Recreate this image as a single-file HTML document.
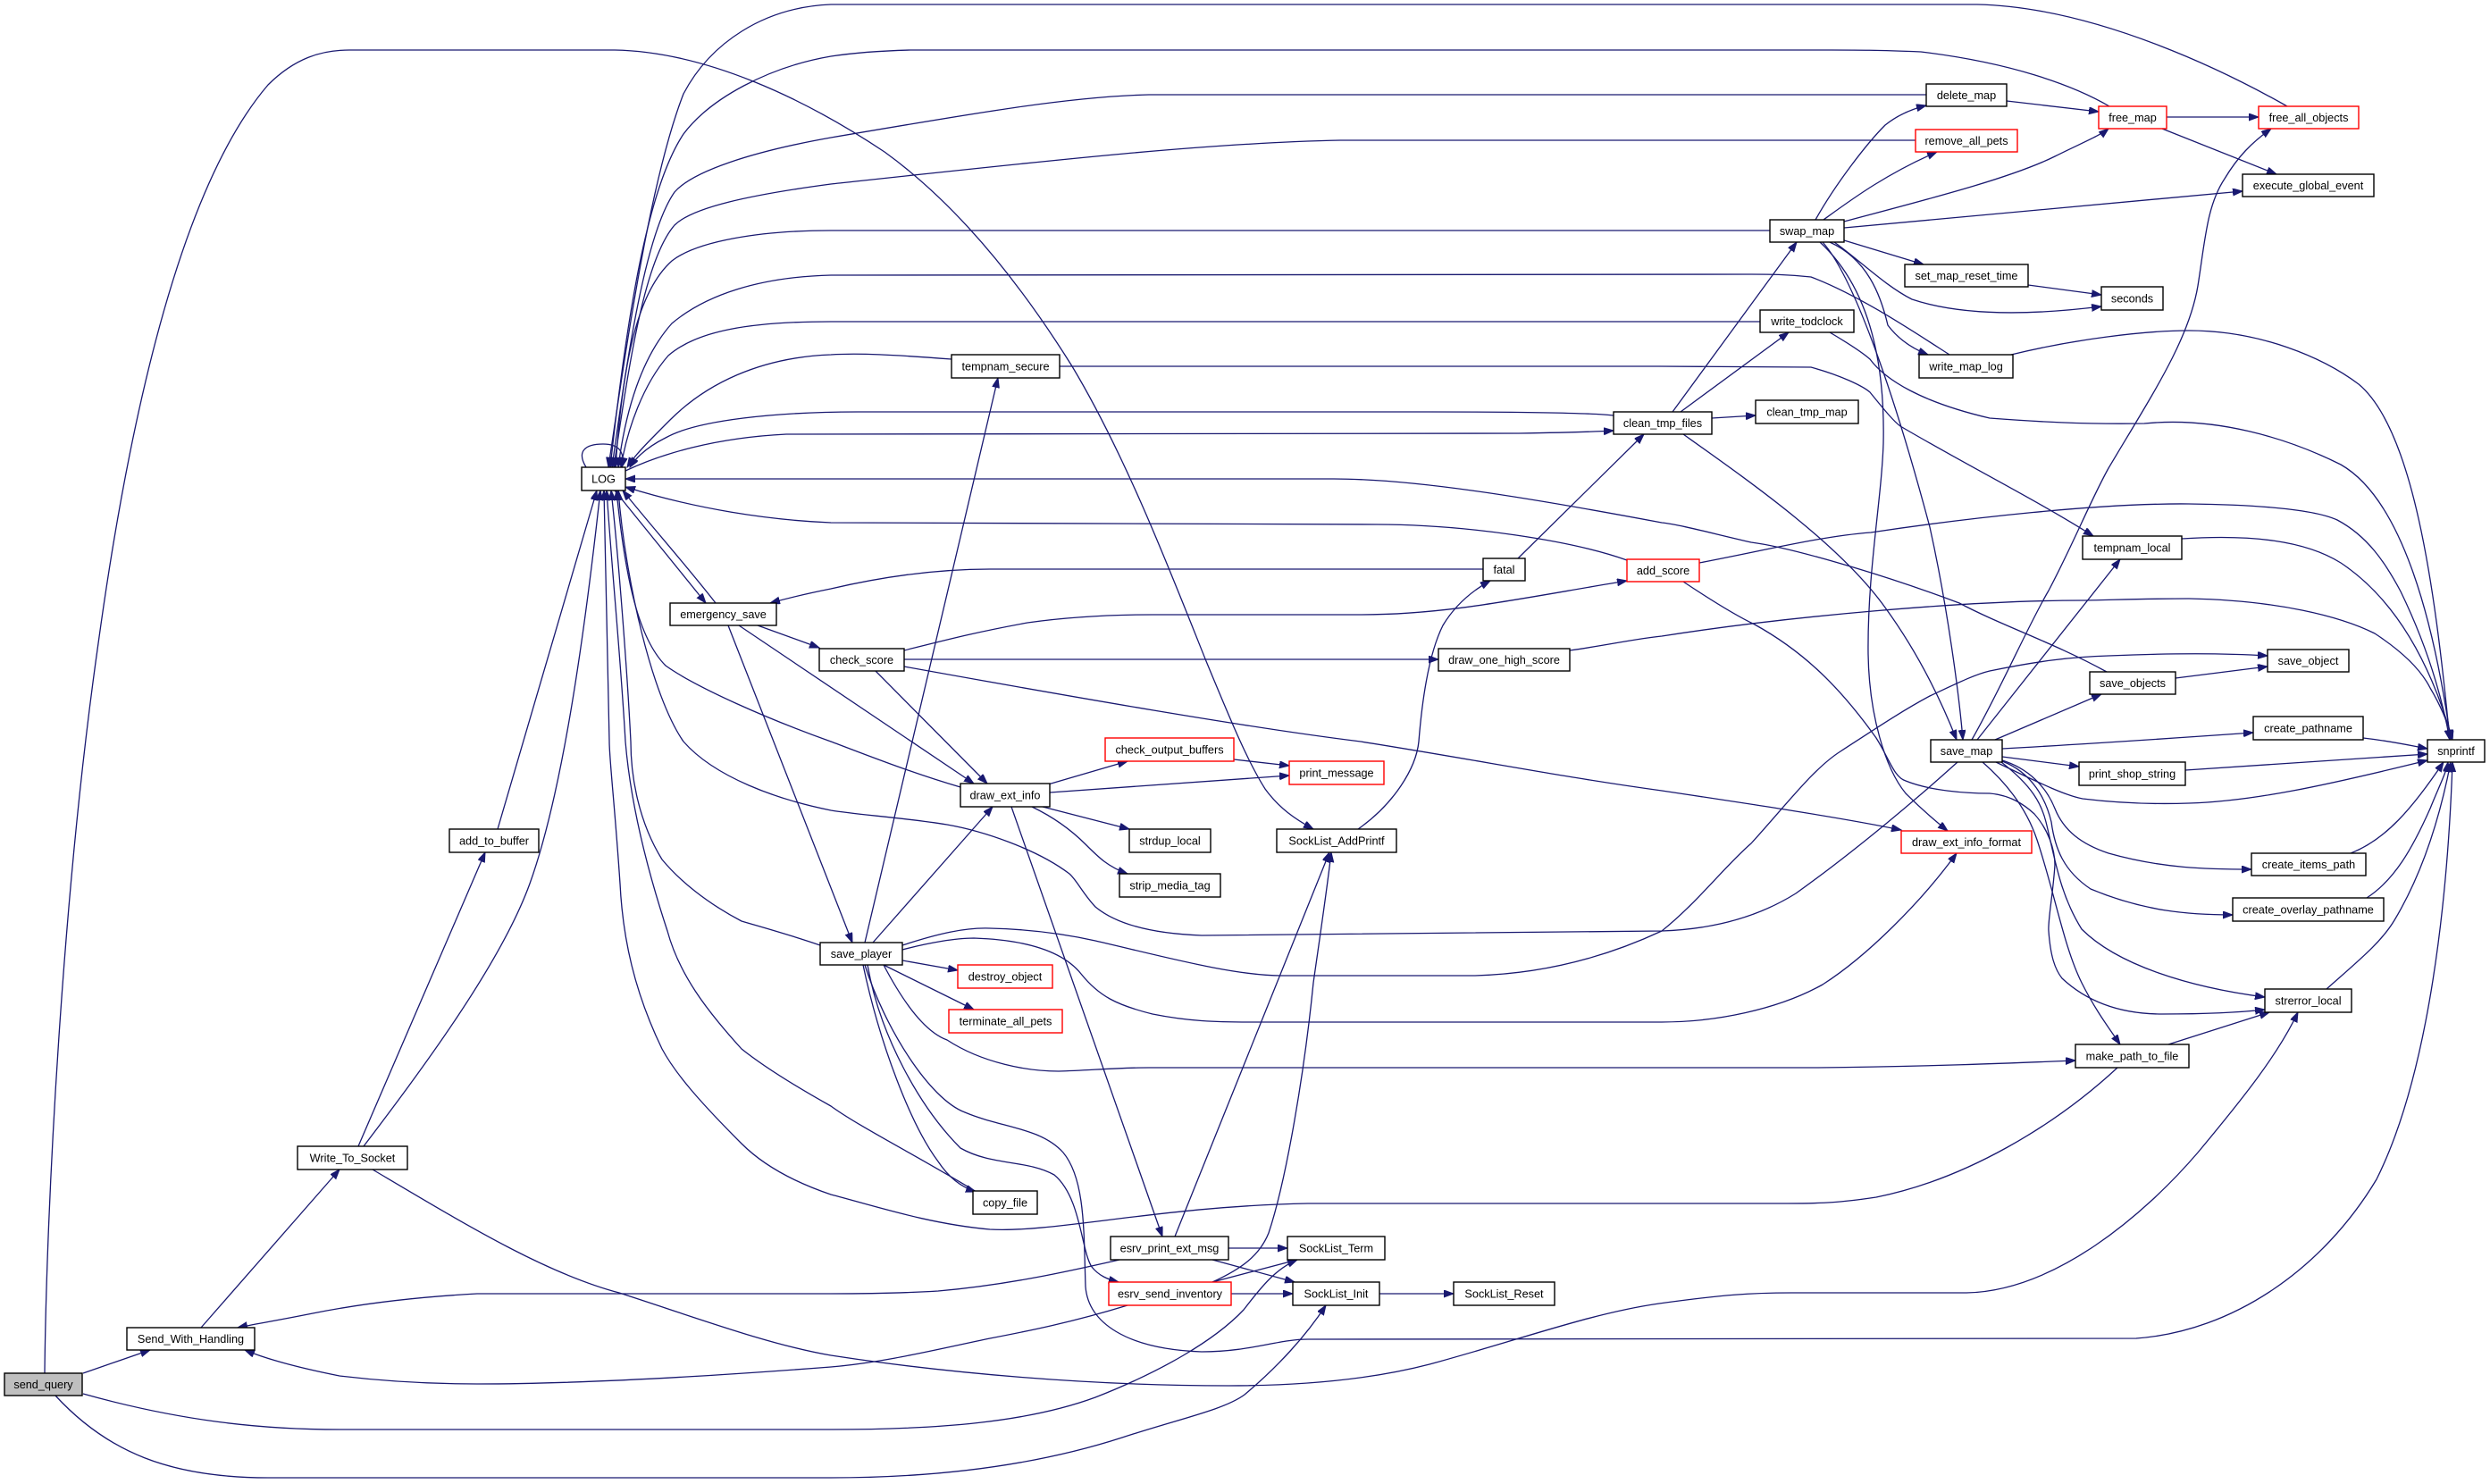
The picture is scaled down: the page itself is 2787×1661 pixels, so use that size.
<!DOCTYPE html>
<html><head><meta charset="utf-8"><style>
html,body{margin:0;padding:0;background:#fff;}
svg{display:block;}
text{font-family:"Liberation Sans",Arial,sans-serif;font-size:12.7px;fill:#000;text-anchor:middle;}
.e{fill:none;stroke:#191970;stroke-width:1.3;marker-end:url(#a);}
.n{fill:#fff;stroke:#000;stroke-width:1.4;}
.r{fill:#fff;stroke:#ff0000;stroke-width:1.4;}
</style></head><body>
<svg width="2787" height="1661" viewBox="0 0 2787 1661" xmlns="http://www.w3.org/2000/svg">
<defs><marker id="a" markerWidth="12" markerHeight="9" refX="11" refY="4" orient="auto" markerUnits="userSpaceOnUse"><path d="M0,0 L11,4 L0,8 z" fill="#191970" stroke="#191970" stroke-width="1"/></marker></defs>
<rect width="2787" height="1661" fill="#fff"/>
<g>
<path class="e" d="M50,1537 C52,1350 70,1000 110,720 C150,430 210,200 300,95 C330,65 360,56 391,56 L688,56 C790,58 900,110 990,170 C1080,235 1150,330 1200,410 C1260,510 1310,640 1350,740 C1375,800 1395,850 1416,883 C1432,905 1450,917 1470,928"/>
<path class="e" d="M93,1537 L168,1511"/>
<path class="e" d="M93,1560 C200,1590 290,1600 380,1600 L930,1600 C1050,1600 1150,1592 1226,1564 C1300,1535 1360,1500 1392,1466 C1412,1440 1428,1420 1452,1410"/>
<path class="e" d="M62,1562 C120,1625 190,1654 300,1654 L930,1654 C1050,1654 1160,1640 1256,1609 C1320,1588 1370,1578 1393,1561 C1430,1530 1462,1495 1484,1461"/>
<path class="e" d="M225,1486 L380,1309"/>
<path class="e" d="M401,1283 L543,954"/>
<path class="e" d="M407,1283 C470,1200 560,1080 593,989 C625,900 650,750 672,549"/>
<path class="e" d="M557,928 L668,549"/>
<path class="e" d="M417,1309 C520,1370 610,1425 693,1447 C780,1475 860,1505 930,1517 C1060,1537 1220,1551 1375,1551 C1480,1551 1550,1540 1600,1527 C1700,1500 1780,1470 1857,1459 C1930,1449 1960,1447 2005,1447 L2201,1447 C2300,1445 2400,1360 2460,1290 C2510,1230 2550,1180 2572,1133"/>
<path class="e" d="M968,1080 C990,1150 1040,1230 1080,1245 C1120,1262 1165,1262 1190,1290 C1215,1320 1213,1380 1215,1440 C1218,1480 1260,1510 1345,1513 C1400,1513 1430,1499 1464,1499 L2391,1498 C2500,1490 2600,1420 2660,1320 C2720,1200 2740,1000 2745,853"/>
<path class="e" d="M971,1080 C985,1160 1030,1240 1075,1285 C1110,1305 1150,1298 1180,1315 C1210,1340 1210,1400 1222,1418 C1230,1428 1240,1432 1252,1435"/>
<path class="e" d="M966,1080 C985,1170 1020,1260 1050,1300 C1062,1318 1075,1328 1092,1334"/>
<path class="e" d="M968,1055 L1117,423"/>
<path class="e" d="M977,1055 L1111,903"/>
<path class="e" d="M1010,1075 L1072,1086"/>
<path class="e" d="M989,1080 L1090,1130"/>
<path class="e" d="M1010,1058 C1050,1045 1080,1038 1108,1039 C1150,1040 1190,1045 1226,1053 C1300,1070 1380,1092 1434,1092 L1650,1092 C1730,1090 1800,1070 1860,1042 C1900,1010 1930,970 1960,944 C2000,900 2030,860 2060,841 C2100,815 2130,795 2160,779 C2190,765 2210,755 2227,751 C2280,740 2320,735 2360,734 C2430,731 2490,731 2538,734"/>
<path class="e" d="M1010,1063 C1040,1055 1070,1050 1090,1050 C1150,1052 1190,1065 1210,1090 C1230,1115 1250,1125 1290,1135 C1330,1143 1360,1144 1400,1144 L1860,1144 C1920,1144 1990,1130 2040,1102 C2090,1070 2150,1010 2190,955"/>
<path class="e" d="M989,1080 C1010,1120 1035,1155 1060,1164 C1100,1190 1150,1199 1185,1199 C1220,1198 1250,1195 1286,1195 L2035,1195 C2150,1194 2250,1190 2323,1187"/>
<path class="e" d="M918,1058 C880,1045 850,1037 830,1031 C790,1010 760,985 741,962 C715,920 706,870 706,830 C702,750 692,620 684,549"/>
<path class="e" d="M815,700 L954,1055"/>
<path class="e" d="M827,700 L1090,877"/>
<path class="e" d="M848,700 L917,725"/>
<path class="e" d="M688,549 L790,675"/>
<path class="e" d="M801,675 C770,635 730,590 697,549"/>
<path class="e" d="M1660,637 L1108,637 C1050,637 990,645 930,659 C900,665 880,670 862,675"/>
<path class="e" d="M1699,625 L1840,486"/>
<path class="e" d="M980,751 L1105,877"/>
<path class="e" d="M1012,728 C1060,716 1090,708 1150,697 C1200,690 1250,688 1290,688 L1523,688 C1620,688 1700,670 1821,650"/>
<path class="e" d="M1012,738 L1610,738"/>
<path class="e" d="M1012,746 C1200,780 1400,815 1523,830 C1650,850 1750,870 1860,885 C1960,900 2060,915 2128,929"/>
<path class="e" d="M1757,728 C1800,722 1830,715 1860,712 C2000,690 2200,672 2331,672 C2380,671 2410,670 2450,670 C2550,672 2620,690 2658,709 C2690,730 2710,750 2720,770 C2732,790 2740,810 2745,828"/>
<path class="e" d="M1902,630 C1980,615 2040,600 2094,596 C2200,580 2350,563 2450,564 C2530,565 2590,570 2616,582 C2650,600 2670,630 2687,662 C2720,730 2735,790 2742,828"/>
<path class="e" d="M1884,651 C1920,675 1945,690 1964,699 C2020,730 2060,770 2100,826 C2115,850 2120,870 2133,874 C2160,885 2200,888 2227,888 C2250,890 2265,900 2277,911 C2292,928 2300,950 2300,968 C2298,1000 2292,1030 2293,1042 C2295,1070 2300,1085 2308,1095 C2340,1125 2380,1135 2420,1135 C2460,1135 2500,1134 2535,1130"/>
<path class="e" d="M1821,627 C1760,605 1640,587 1541,587 L930,585 C860,582 780,570 700,545"/>
<path class="e" d="M2358,752 C2300,720 2240,700 2193,675 C2100,640 2000,612 1960,607 C1920,598 1880,587 1860,585 C1700,555 1580,536 1493,536 L700,536"/>
<path class="e" d="M1806,465 C1780,462 1700,461 1600,461 L960,461 C870,461 780,470 745,490 C725,500 712,512 705,523"/>
<path class="e" d="M700,527 C740,508 800,490 880,486 L1700,485 C1760,484 1790,483 1806,482"/>
<path class="e" d="M1065,402 C1000,397 960,395 930,397 C850,400 790,430 750,470 C725,495 710,510 702,523"/>
<path class="e" d="M1970,360 L930,360 C840,360 780,370 748,398 C720,430 702,480 695,523"/>
<path class="e" d="M2182,397 C2140,370 2080,330 2027,310 C2000,307 1980,307 1960,307 L930,308 C850,310 790,330 752,362 C718,400 700,460 692,523"/>
<path class="e" d="M1981,258 L930,258 C850,258 780,270 752,292 C715,325 697,400 689,523"/>
<path class="e" d="M2144,157 L1500,157 C1350,160 1170,180 930,206 C840,218 775,232 755,252 C722,290 705,400 687,523"/>
<path class="e" d="M2156,106 L1286,106 C1200,108 1100,125 930,154 C840,170 775,192 755,215 C722,262 702,400 685,523"/>
<path class="e" d="M2361,119 C2320,95 2250,70 2150,58 C2100,56 2080,56 2050,56 L1019,56 C980,57 950,60 930,63 C860,75 795,110 765,150 C725,210 702,350 683,523"/>
<path class="e" d="M2560,119 C2500,85 2350,8 2213,5 L930,5 C855,8 795,48 765,105 C728,200 702,380 681,523"/>
<path class="e" d="M1075,881 C1020,865 970,845 930,830 C860,805 780,770 745,745 C715,715 700,650 690,549"/>
<path class="e" d="M2191,853 C2150,890 2080,950 2010,1000 C1970,1025 1920,1040 1860,1042 L1345,1047 C1290,1045 1250,1035 1226,1015 C1212,1000 1205,985 1197,978 C1160,950 1100,930 1060,923 C1010,915 960,912 930,907 C870,895 800,870 765,830 C730,780 700,650 692,549"/>
<path class="e" d="M1093,1334 C1020,1290 960,1260 930,1238 C880,1210 850,1190 830,1174 C790,1130 760,1090 747,1042 C720,960 705,890 700,830 C695,740 685,640 679,549"/>
<path class="e" d="M2370,1195 C2300,1260 2200,1320 2100,1340 C2060,1346 2040,1347 2000,1347 L1464,1347 C1300,1350 1180,1380 1108,1376 C1040,1370 980,1350 930,1337 C880,1320 850,1300 830,1280 C780,1230 755,1200 741,1174 C710,1110 697,1050 694,989 C688,900 682,850 682,830 C680,700 678,620 676,549"/>
<path class="e" d="M656,523 C645,505 655,497 675,497 C692,497 700,505 696,523"/>
<path class="e" d="M1520,928 C1560,900 1585,860 1588,830 C1592,780 1600,730 1615,700 C1630,675 1650,660 1668,650"/>
<path class="e" d="M1872,461 L2011,271"/>
<path class="e" d="M1881,461 L2002,372"/>
<path class="e" d="M1916,468 L1965,465"/>
<path class="e" d="M1884,486 C1960,540 2060,610 2110,680 C2150,735 2175,790 2190,828"/>
<path class="e" d="M2032,246 C2055,205 2090,160 2110,140 C2125,128 2140,122 2156,118"/>
<path class="e" d="M2041,246 C2070,225 2110,195 2168,170"/>
<path class="e" d="M2064,248 C2150,225 2250,200 2300,175 C2330,160 2350,152 2360,144"/>
<path class="e" d="M2064,255 L2510,214"/>
<path class="e" d="M2064,269 L2153,296"/>
<path class="e" d="M2053,271 C2080,290 2110,320 2140,335 C2200,355 2280,352 2352,343"/>
<path class="e" d="M2048,271 C2090,290 2105,330 2113,364 C2125,380 2140,390 2158,397"/>
<path class="e" d="M2040,271 C2075,310 2120,440 2160,590 C2180,680 2193,780 2197,828"/>
<path class="e" d="M2037,271 C2090,320 2110,400 2108,496 C2106,560 2090,640 2091,732 C2092,800 2110,860 2133,888 C2150,905 2165,918 2180,930"/>
<path class="e" d="M2425,131 L2528,131"/>
<path class="e" d="M2420,144 L2548,195"/>
<path class="e" d="M2246,113 L2349,125"/>
<path class="e" d="M2270,319 L2352,330"/>
<path class="e" d="M2251,397 C2320,380 2400,370 2450,370 C2530,370 2600,400 2640,430 C2700,480 2725,650 2742,828"/>
<path class="e" d="M2048,372 C2070,385 2085,395 2093,402 C2110,425 2150,450 2227,468 C2280,472 2330,475 2400,474 C2480,466 2560,490 2620,520 C2690,560 2725,700 2743,828"/>
<path class="e" d="M1186,410 L1857,410 C1940,410 2000,411 2027,411 C2060,420 2085,432 2093,439 C2110,460 2120,472 2127,477 C2200,520 2280,560 2343,600"/>
<path class="e" d="M2442,603 C2520,598 2580,605 2620,630 C2680,670 2720,740 2745,828"/>
<path class="e" d="M2207,828 C2240,770 2270,700 2293,661 C2320,610 2340,560 2360,524 C2410,440 2450,380 2460,320 C2468,270 2470,230 2490,200 C2505,175 2520,160 2542,144"/>
<path class="e" d="M2213,828 L2373,626"/>
<path class="e" d="M2233,828 L2352,777"/>
<path class="e" d="M2241,838 C2350,832 2450,825 2522,820"/>
<path class="e" d="M2241,847 L2327,858"/>
<path class="e" d="M2234,853 C2280,875 2310,890 2331,894 C2380,900 2420,900 2450,899 C2520,897 2600,880 2717,851"/>
<path class="e" d="M2241,851 C2270,860 2290,880 2300,905 C2310,930 2330,945 2360,955 C2420,972 2470,973 2520,973"/>
<path class="e" d="M2241,852 C2275,865 2290,895 2296,920 C2300,950 2310,975 2340,995 C2400,1020 2450,1024 2499,1024"/>
<path class="e" d="M2240,853 C2275,880 2285,900 2290,920 C2300,960 2305,1000 2330,1040 C2370,1080 2450,1105 2535,1116"/>
<path class="e" d="M2219,853 C2250,880 2270,910 2280,940 C2300,1000 2310,1060 2330,1100 C2345,1130 2360,1150 2373,1169"/>
<path class="e" d="M2427,1169 L2540,1133"/>
<path class="e" d="M2435,759 L2538,746"/>
<path class="e" d="M2645,826 C2680,830 2700,835 2717,838"/>
<path class="e" d="M2446,862 L2717,844"/>
<path class="e" d="M2631,955 C2670,940 2700,905 2735,853"/>
<path class="e" d="M2649,1005 C2680,985 2700,950 2720,905 C2730,880 2738,865 2740,853"/>
<path class="e" d="M2604,1107 C2640,1075 2665,1055 2680,1030 C2710,980 2730,920 2743,853"/>
<path class="e" d="M1173,878 L1262,852"/>
<path class="e" d="M1175,887 L1443,868"/>
<path class="e" d="M1381,850 L1443,857"/>
<path class="e" d="M1167,903 L1264,928"/>
<path class="e" d="M1155,903 C1180,915 1200,930 1215,945 C1230,960 1240,970 1262,978"/>
<path class="e" d="M1132,903 L1301,1384"/>
<path class="e" d="M1315,1384 L1488,954"/>
<path class="e" d="M1375,1397 L1441,1397"/>
<path class="e" d="M1357,1410 L1449,1435"/>
<path class="e" d="M1253,1410 C1200,1422 1130,1438 1050,1445 C1000,1448 960,1448 930,1448 L534,1448 C460,1452 400,1460 350,1470 C310,1478 285,1482 266,1486"/>
<path class="e" d="M1357,1435 C1390,1420 1410,1405 1420,1380 C1440,1320 1460,1200 1470,1100 C1480,1030 1486,990 1490,954"/>
<path class="e" d="M1357,1435 L1452,1410"/>
<path class="e" d="M1378,1448 L1447,1448"/>
<path class="e" d="M1262,1461 C1200,1480 1150,1490 1108,1498 C1050,1510 990,1525 930,1530 C800,1540 650,1549 534,1549 C480,1549 430,1546 380,1540 C340,1532 300,1522 274,1511"/>
<path class="e" d="M1544,1448 L1627,1448"/>
</g>
<g>
<rect x="5" y="1537" width="87" height="25" fill="#bfbfbf" stroke="#000" stroke-width="1.4"/><text x="48.5" y="1554">send_query</text>
<rect class="n" x="142" y="1486" width="143" height="25"/><text x="213.5" y="1503">Send_With_Handling</text>
<rect class="n" x="333" y="1283" width="123" height="26"/><text x="394.5" y="1300.5">Write_To_Socket</text>
<rect class="n" x="503" y="928" width="100" height="26"/><text x="553" y="945.5">add_to_buffer</text>
<rect class="n" x="651" y="523" width="49" height="26"/><text x="675.5" y="540.5">LOG</text>
<rect class="n" x="750" y="675" width="119" height="25"/><text x="809.5" y="692">emergency_save</text>
<rect class="n" x="917" y="726" width="95" height="25"/><text x="964.5" y="743">check_score</text>
<rect class="n" x="1065" y="397" width="121" height="26"/><text x="1125.5" y="414.5">tempnam_secure</text>
<rect class="n" x="1075" y="877" width="100" height="26"/><text x="1125" y="894.5">draw_ext_info</text>
<rect class="r" x="1237" y="826" width="144" height="26"/><text x="1309" y="843.5">check_output_buffers</text>
<rect class="r" x="1443" y="852" width="106" height="26"/><text x="1496" y="869.5">print_message</text>
<rect class="n" x="1264" y="928" width="91" height="26"/><text x="1309.5" y="945.5">strdup_local</text>
<rect class="n" x="1429" y="928" width="134" height="26"/><text x="1496" y="945.5">SockList_AddPrintf</text>
<rect class="n" x="1253" y="978" width="113" height="26"/><text x="1309.5" y="995.5">strip_media_tag</text>
<rect class="n" x="918" y="1055" width="92" height="25"/><text x="964" y="1072">save_player</text>
<rect class="r" x="1072" y="1080" width="106" height="26"/><text x="1125" y="1097.5">destroy_object</text>
<rect class="r" x="1062" y="1130" width="127" height="26"/><text x="1125.5" y="1147.5">terminate_all_pets</text>
<rect class="n" x="1089" y="1333" width="72" height="26"/><text x="1125" y="1350.5">copy_file</text>
<rect class="n" x="1243" y="1384" width="132" height="26"/><text x="1309" y="1401.5">esrv_print_ext_msg</text>
<rect class="n" x="1441" y="1384" width="109" height="26"/><text x="1495.5" y="1401.5">SockList_Term</text>
<rect class="r" x="1241" y="1435" width="137" height="26"/><text x="1309.5" y="1452.5">esrv_send_inventory</text>
<rect class="n" x="1447" y="1435" width="97" height="26"/><text x="1495.5" y="1452.5">SockList_Init</text>
<rect class="n" x="1627" y="1435" width="113" height="26"/><text x="1683.5" y="1452.5">SockList_Reset</text>
<rect class="n" x="1660" y="625" width="47" height="25"/><text x="1683.5" y="642">fatal</text>
<rect class="r" x="1821" y="626" width="81" height="25"/><text x="1861.5" y="643">add_score</text>
<rect class="n" x="1610" y="726" width="147" height="25"/><text x="1683.5" y="743">draw_one_high_score</text>
<rect class="n" x="1806" y="461" width="110" height="25"/><text x="1861" y="478">clean_tmp_files</text>
<rect class="n" x="2156" y="94" width="90" height="25"/><text x="2201" y="111">delete_map</text>
<rect class="r" x="2349" y="119" width="76" height="25"/><text x="2387" y="136">free_map</text>
<rect class="r" x="2528" y="119" width="112" height="25"/><text x="2584" y="136">free_all_objects</text>
<rect class="r" x="2144" y="145" width="114" height="25"/><text x="2201" y="162">remove_all_pets</text>
<rect class="n" x="2510" y="195" width="147" height="25"/><text x="2583.5" y="212">execute_global_event</text>
<rect class="n" x="1981" y="246" width="83" height="25"/><text x="2022.5" y="263">swap_map</text>
<rect class="n" x="2132" y="296" width="138" height="25"/><text x="2201" y="313">set_map_reset_time</text>
<rect class="n" x="2352" y="321" width="69" height="26"/><text x="2386.5" y="338.5">seconds</text>
<rect class="n" x="1970" y="347" width="105" height="25"/><text x="2022.5" y="364">write_todclock</text>
<rect class="n" x="2148" y="397" width="105" height="26"/><text x="2200.5" y="414.5">write_map_log</text>
<rect class="n" x="1965" y="448" width="115" height="26"/><text x="2022.5" y="465.5">clean_tmp_map</text>
<rect class="n" x="2331" y="600" width="111" height="26"/><text x="2386.5" y="617.5">tempnam_local</text>
<rect class="n" x="2538" y="727" width="91" height="25"/><text x="2583.5" y="744">save_object</text>
<rect class="n" x="2339" y="752" width="96" height="25"/><text x="2387" y="769">save_objects</text>
<rect class="n" x="2522" y="802" width="123" height="26"/><text x="2583.5" y="819.5">create_pathname</text>
<rect class="n" x="2161" y="828" width="80" height="25"/><text x="2201" y="845">save_map</text>
<rect class="n" x="2717" y="828" width="64" height="25"/><text x="2749" y="845">snprintf</text>
<rect class="n" x="2327" y="853" width="119" height="26"/><text x="2386.5" y="870.5">print_shop_string</text>
<rect class="r" x="2128" y="930" width="146" height="25"/><text x="2201" y="947">draw_ext_info_format</text>
<rect class="n" x="2520" y="955" width="128" height="25"/><text x="2584" y="972">create_items_path</text>
<rect class="n" x="2499" y="1005" width="169" height="26"/><text x="2583.5" y="1022.5">create_overlay_pathname</text>
<rect class="n" x="2535" y="1107" width="97" height="26"/><text x="2583.5" y="1124.5">strerror_local</text>
<rect class="n" x="2323" y="1169" width="127" height="26"/><text x="2386.5" y="1186.5">make_path_to_file</text>
</g>
</svg>
</body></html>
